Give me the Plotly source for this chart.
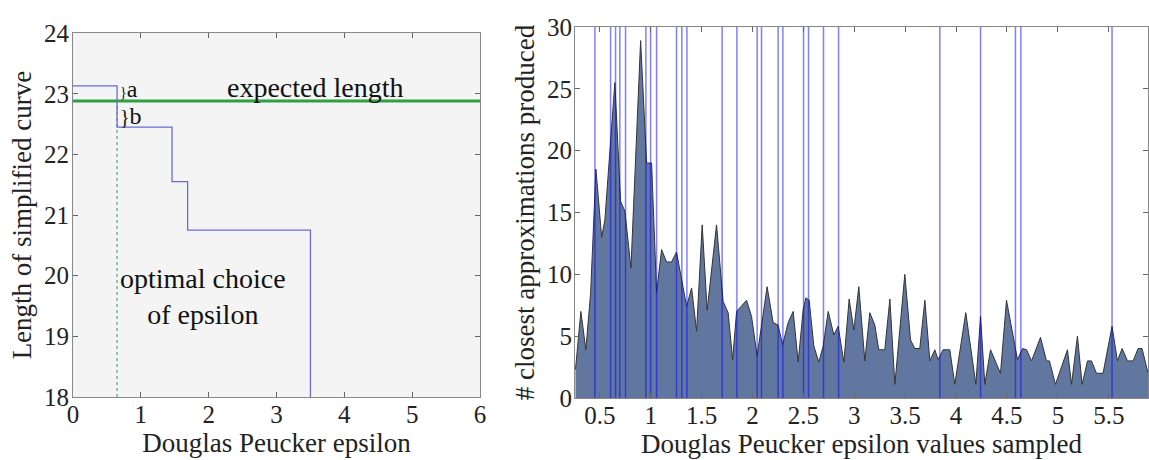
import plotly.graph_objects as go

FONT = "Liberation Serif"

# left panel: length of simplified curve vs epsilon
step_eps = [0, 0.65, 1.46, 1.69, 3.5]
step_len = [23.13, 22.45, 21.55, 20.75, 18]
expected_len = 22.88
optimal_eps = 0.65

# right panel: how often each sampled epsilon gave the closest approximation
eps_sampled = [0.26, 0.313, 0.362, 0.409, 0.461, 0.517, 0.549, 0.647, 0.703, 0.746,
               0.805, 0.900, 0.959, 1.008, 1.057, 1.106, 1.155, 1.204, 1.253, 1.352,
               1.401, 1.450, 1.505, 1.554, 1.646, 1.711, 1.760, 1.804, 1.843, 1.941,
               1.990, 2.045, 2.143, 2.202, 2.251, 2.295, 2.350, 2.399, 2.448, 2.497,
               2.524, 2.556, 2.602, 2.651, 2.694, 2.743, 2.799, 2.841, 2.897, 2.949,
               2.995, 3.044, 3.103, 3.152, 3.201, 3.240, 3.299, 3.349, 3.398, 3.496,
               3.552, 3.594, 3.643, 3.693, 3.742, 3.791, 3.823, 3.872, 3.938, 3.987,
               4.095, 4.194, 4.240, 4.282, 4.338, 4.380, 4.436, 4.495, 4.554, 4.603,
               4.652, 4.692, 4.741, 4.829, 4.888, 4.917, 4.976, 5.094, 5.134, 5.192,
               5.238, 5.291, 5.330, 5.379, 5.444, 5.532, 5.585, 5.631, 5.684, 5.739,
               5.788, 5.827, 5.886]
closest_counts = [2.3, 7.0, 3.9, 8.5, 18.5, 13.0, 14.4, 25.5, 15.9, 15.1,
                  10.5, 28.9, 19.0, 19.0, 8.5, 12.0, 11.0, 11.0, 11.8, 7.4,
                  8.9, 5.4, 14.0, 7.1, 14.0, 7.8, 6.9, 3.1, 7.0, 7.9,
                  6.6, 3.4, 9.0, 6.1, 5.9, 4.3, 6.1, 7.0, 2.9, 7.1,
                  8.1, 7.9, 4.2, 2.9, 4.2, 7.0, 5.1, 5.8, 2.9, 8.0,
                  5.5, 9.0, 3.0, 6.9, 5.9, 3.9, 3.9, 8.0, 1.1, 10.0,
                  4.7, 4.0, 4.0, 7.9, 3.0, 3.9, 3.1, 3.9, 3.9, 1.1,
                  6.9, 1.1, 6.6, 1.1, 3.9, 3.1, 2.0, 7.9, 5.3, 3.1,
                  4.0, 3.9, 3.0, 4.9, 3.0, 3.0, 1.1, 3.9, 1.1, 5.0,
                  1.1, 3.0, 3.0, 2.0, 2.0, 5.8, 3.0, 4.0, 3.0, 3.0,
                  4.0, 4.0, 2.0]
chosen_eps = [0.451, 0.605, 0.654, 0.696, 0.752, 0.952, 0.998, 1.057, 1.253, 1.305,
              1.355, 1.701, 1.846, 2.045, 2.088, 2.251, 2.298, 2.501, 2.550, 2.697,
              2.845, 3.840, 4.240, 4.583, 4.636, 5.532]

fig = go.Figure()

fig.add_trace(go.Scatter(x=[0, 6], y=[expected_len, expected_len], mode="lines",
                         line=dict(color="#2ea043", width=3), xaxis="x", yaxis="y"))
fig.add_trace(go.Scatter(x=[optimal_eps, optimal_eps], y=[18, expected_len], mode="lines",
                         line=dict(color="#2ea043", width=1, dash="dot"), xaxis="x", yaxis="y"))
fig.add_trace(go.Scatter(x=step_eps, y=step_len, mode="lines", line_shape="hv",
                         line=dict(color="#6a6ad8", width=1.3), xaxis="x", yaxis="y"))

fig.add_trace(go.Scatter(x=eps_sampled, y=closest_counts, mode="lines", fill="tozeroy",
                         fillcolor="#62779f", line=dict(color="#333333", width=1),
                         xaxis="x2", yaxis="y2"))
vx, vy = [], []
for e in chosen_eps:
    vx += [e, e, None]
    vy += [0, 30, None]
fig.add_trace(go.Scatter(x=vx, y=vy, mode="lines", line=dict(color="rgba(0,0,255,0.5)", width=1.5),
                         xaxis="x2", yaxis="y2"))

tickfont = dict(family=FONT, size=25, color="#222")
titlefont = dict(family=FONT, size=27, color="#222")
ax = dict(showline=True, linecolor="#888", linewidth=1, mirror="allticks", ticks="inside",
          ticklen=5, tickcolor="#666", showgrid=False, zeroline=False, tickfont=tickfont,
          automargin=False)

fig.update_layout(
    width=1149, height=460, margin=dict(l=0, r=0, t=0, b=0),
    paper_bgcolor="white", plot_bgcolor="white", showlegend=False,
    font=dict(family=FONT),
    xaxis=dict(ax, domain=[0.0635, 0.4178], range=[0, 6], dtick=1, anchor="y",
               ticklabelstandoff=-5,
               title=dict(text="Douglas Peucker epsilon", font=titlefont, standoff=3)),
    yaxis=dict(ax, domain=[0.137, 0.928], range=[18, 24], dtick=1, anchor="x",
               ticklabelstandoff=-2,
               title=dict(text="Length of simplified curve", font=titlefont, standoff=4)),
    xaxis2=dict(ax, domain=[0.5004, 0.9991], range=[0.255, 5.885],
                tickvals=[0.5, 1, 1.5, 2, 2.5, 3, 3.5, 4, 4.5, 5, 5.5], anchor="y2",
                ticklabelstandoff=-5,
                title=dict(text="Douglas Peucker epsilon values sampled", font=titlefont, standoff=3)),
    yaxis2=dict(ax, domain=[0.1348, 0.9413], range=[0, 30], dtick=5, anchor="x2",
                ticklabelstandoff=-3,
                title=dict(text="# closest approximations produced", font=titlefont, standoff=4)),
    shapes=[dict(type="rect", xref="x domain", yref="y domain", x0=0, x1=1, y0=0, y1=1,
                 fillcolor="#f4f4f4", line_width=0, layer="below")],
    annotations=[
        dict(x=3.57, y=23.1, xref="x", yref="y", text="expected length", showarrow=False,
             font=dict(family=FONT, size=28, color="#111")),
        dict(x=0.66, y=23.08, xref="x", yref="y", xanchor="left",
             text="<span style='font-size:14px'>}</span>a", showarrow=False,
             font=dict(family=FONT, size=24, color="#111")),
        dict(x=0.66, y=22.64, xref="x", yref="y", xanchor="left",
             text="<span style='font-size:20px'>}</span>b", showarrow=False,
             font=dict(family=FONT, size=24, color="#111")),
        dict(x=1.92, y=19.66, xref="x", yref="y", text="optimal choice<br>of epsilon",
             showarrow=False, font=dict(family=FONT, size=28, color="#111")),
    ],
)

fig.write_html("out.html", config={"displayModeBar": False},
               post_script="document.body.style.margin='0';")
